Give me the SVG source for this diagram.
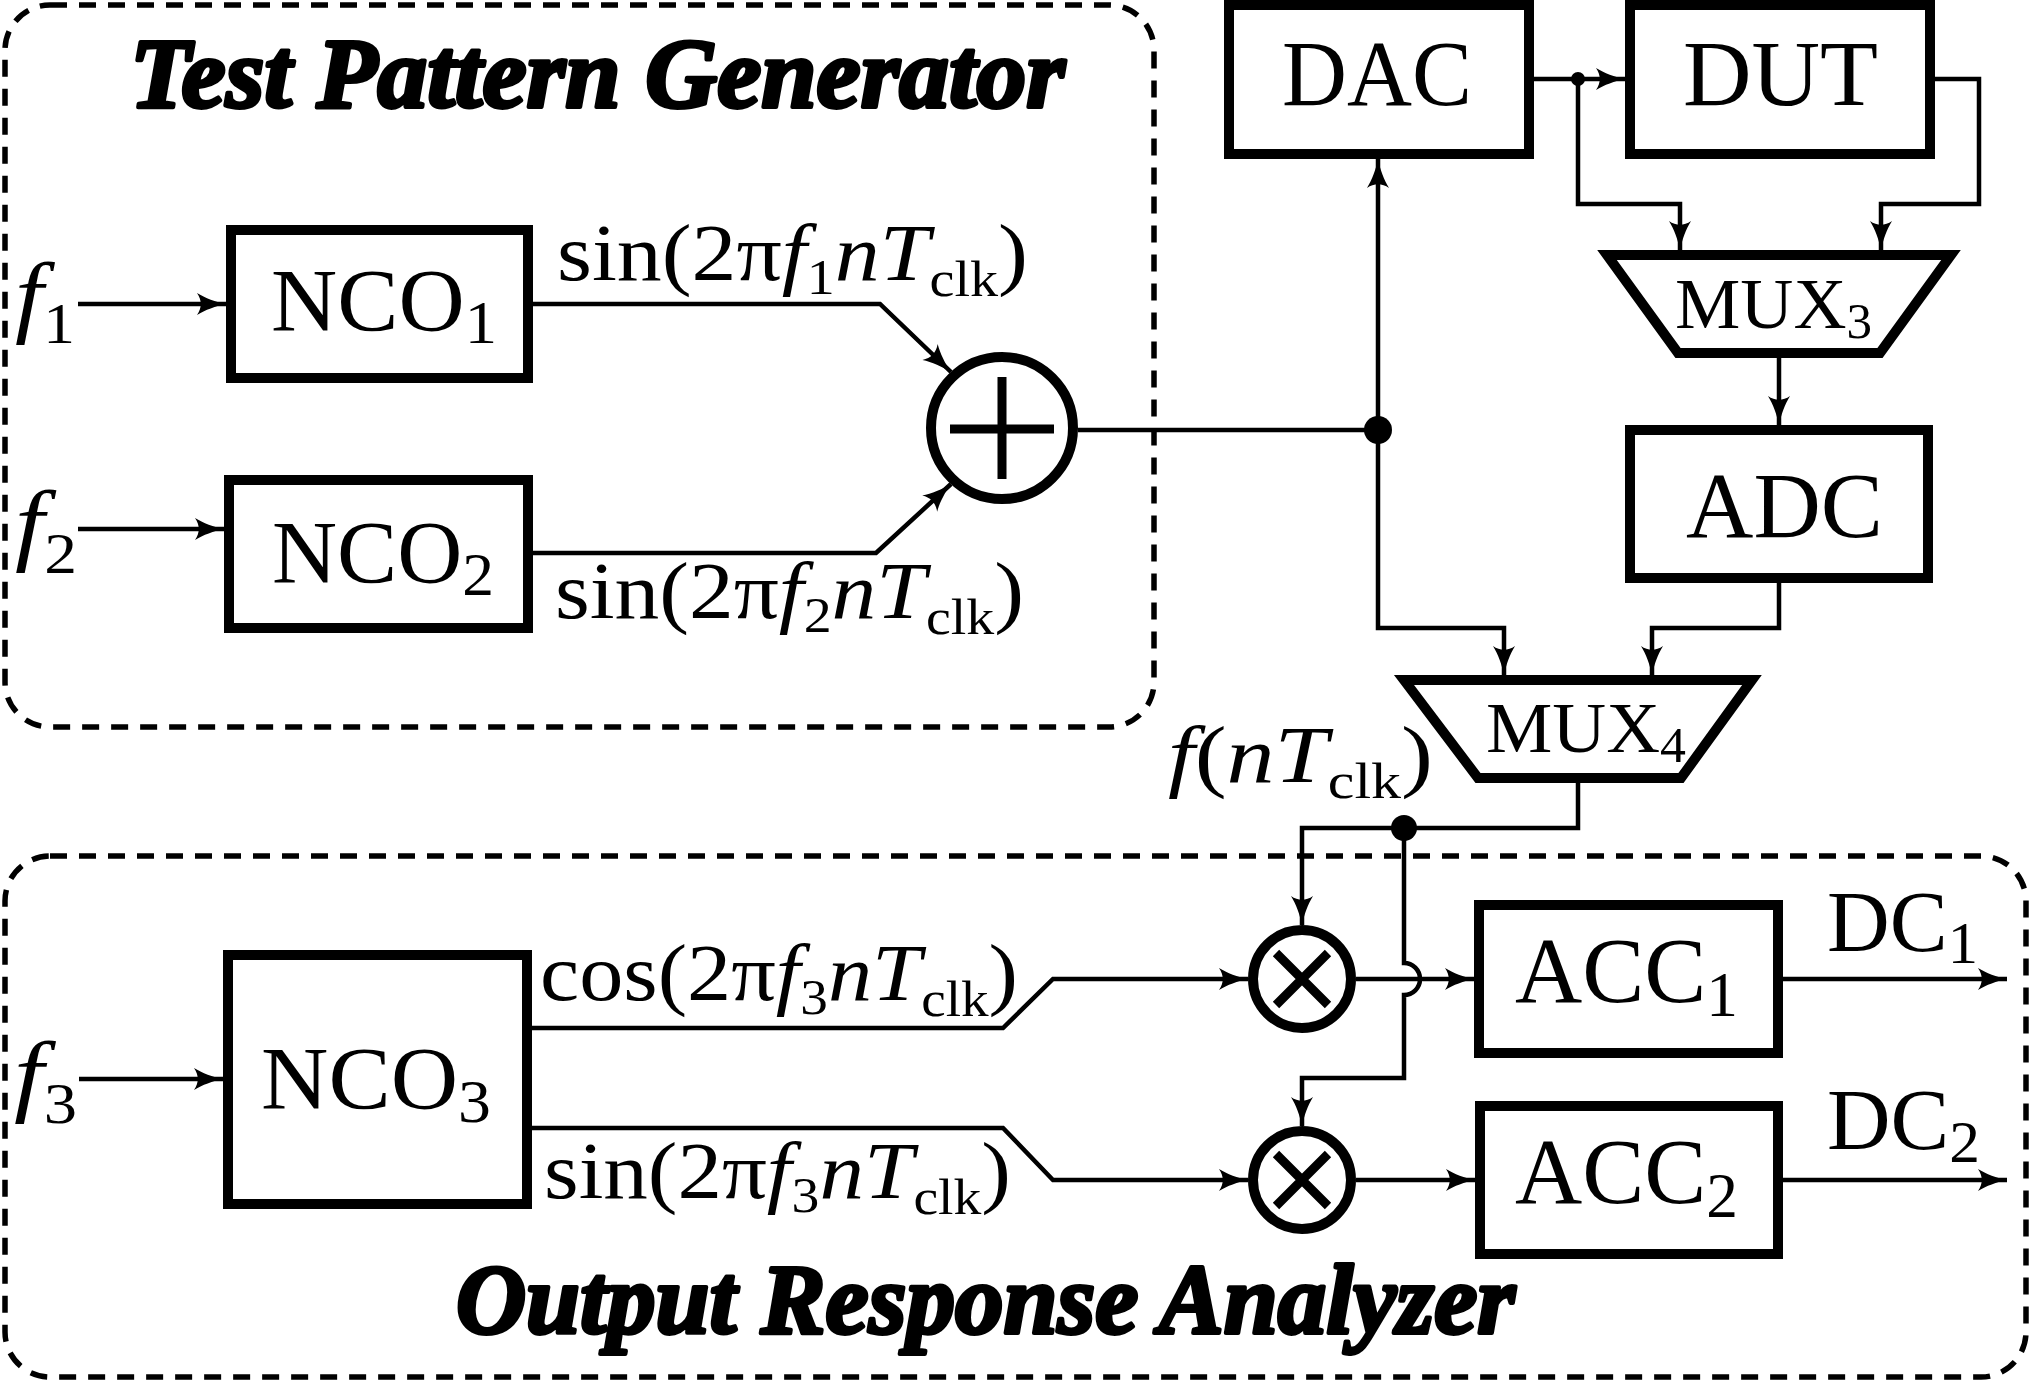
<svg xmlns="http://www.w3.org/2000/svg" width="2030" height="1382" viewBox="0 0 2030 1382">
<style>
.frame{fill:none;stroke:#000;stroke-width:5.5;stroke-dasharray:17 12}
.box{fill:#fff;stroke:#000;stroke-width:10}
.op{fill:#fff;stroke:#000;stroke-width:10}
.sym{stroke:#000;stroke-width:9;fill:none}
.wire{fill:none;stroke:#000;stroke-width:4.5}
.arr{marker-end:url(#ah)}
.dot{fill:#000}
.t{font-family:"Liberation Serif","Times New Roman",serif;fill:#000}
.title{font-family:"Liberation Serif","Times New Roman",serif;font-weight:bold;font-style:italic;font-size:100px;fill:#000;stroke:#000;stroke-width:4;stroke-linejoin:round}
.it{font-style:italic}
</style>
<defs>
<marker id="ah" markerUnits="userSpaceOnUse" viewBox="0 0 32 24" markerWidth="32" markerHeight="24" refX="30" refY="12" orient="auto">
<path d="M30,12 C20,10 9,6 1,1 C6,8 6,16 1,23 C9,18 20,14 30,12 Z" fill="#000"/>
</marker>
</defs>
<rect width="2030" height="1382" fill="#fff"/>

<g id="tpg-frame">
<rect class="frame" x="5" y="5" width="1149" height="722" rx="45"/>
<text class="title" x="130" y="107" textLength="935" lengthAdjust="spacingAndGlyphs">Test Pattern Generator</text>
</g>
<g id="ora-frame">
<rect class="frame" x="5" y="856" width="2021" height="521" rx="45"/>
<text class="title" x="456" y="1333" textLength="1059" lengthAdjust="spacingAndGlyphs">Output Response Analyzer</text>
</g>

<g id="nco1">
<rect class="box" x="231" y="230" width="297" height="148"/>
<text class="t" x="271" y="330" font-size="88" textLength="226" lengthAdjust="spacingAndGlyphs">NCO<tspan font-size="62" dy="13">1</tspan></text>
</g>
<g id="nco2">
<rect class="box" x="229" y="480" width="299" height="148"/>
<text class="t" x="272" y="582" font-size="88" textLength="222" lengthAdjust="spacingAndGlyphs">NCO<tspan font-size="62" dy="13">2</tspan></text>
</g>
<g id="nco3">
<rect class="box" x="228" y="955" width="299" height="249"/>
<text class="t" x="261" y="1108" font-size="88" textLength="230" lengthAdjust="spacingAndGlyphs">NCO<tspan font-size="62" dy="14">3</tspan></text>
</g>
<g id="adder">
<circle class="op" cx="1002" cy="428" r="71"/>
<path class="sym" d="M950,429 H1054 M1002,377 V479"/>
</g>
<g id="dac">
<rect class="box" x="1229" y="5" width="300" height="149"/>
<text class="t" x="1282" y="105" font-size="94" textLength="190" lengthAdjust="spacingAndGlyphs">DAC</text>
</g>
<g id="dut">
<rect class="box" x="1630" y="5" width="300" height="149"/>
<text class="t" x="1683" y="105" font-size="94" textLength="195" lengthAdjust="spacingAndGlyphs">DUT</text>
</g>
<g id="mux3">
<polygon class="op" points="1607,255 1951,255 1880,353 1678,353"/>
<text class="t" x="1675" y="328" font-size="72" textLength="197" lengthAdjust="spacingAndGlyphs">MUX<tspan font-size="50" dy="10">3</tspan></text>
</g>
<g id="adc">
<rect class="box" x="1630" y="430" width="298" height="148"/>
<text class="t" x="1686" y="537" font-size="94" textLength="197" lengthAdjust="spacingAndGlyphs">ADC</text>
</g>
<g id="mux4">
<polygon class="op" points="1404,680 1752,680 1681,778 1478,778"/>
<text class="t" x="1486" y="752" font-size="72" textLength="200" lengthAdjust="spacingAndGlyphs">MUX<tspan font-size="50" dy="10">4</tspan></text>
</g>
<g id="mult1">
<circle class="op" cx="1302" cy="979" r="49"/>
<path class="sym" stroke-width="8" d="M1276,953 L1328,1005 M1328,953 L1276,1005"/>
</g>
<g id="mult2">
<circle class="op" cx="1302" cy="1180" r="49"/>
<path class="sym" stroke-width="8" d="M1276,1154 L1328,1206 M1328,1154 L1276,1206"/>
</g>
<g id="acc1">
<rect class="box" x="1479" y="905" width="299" height="148"/>
<text class="t" x="1515" y="1002" font-size="94" textLength="223" lengthAdjust="spacingAndGlyphs">ACC<tspan font-size="64" dy="14">1</tspan></text>
</g>
<g id="acc2">
<rect class="box" x="1480" y="1106" width="298" height="148"/>
<text class="t" x="1515" y="1203" font-size="94" textLength="223" lengthAdjust="spacingAndGlyphs">ACC<tspan font-size="64" dy="14">2</tspan></text>
</g>

<g id="connectors">
<path class="wire arr" d="M78,304 H226"/>
<path class="wire arr" d="M78,529 H224"/>
<path class="wire arr" d="M79,1079 H223"/>
<path class="wire arr" d="M533,304 H880 L951,372"/>
<path class="wire arr" d="M533,553 H876 L951,484"/>
<path class="wire" d="M1078,430 H1378"/>
<path class="wire arr" d="M1378,430 V159"/>
<path class="wire arr" d="M1378,430 V628 H1504 V675"/>
<path class="wire arr" d="M1534,79 H1625"/>
<path class="wire arr" d="M1578,79 V204 H1680 V250"/>
<path class="wire arr" d="M1935,79 H1979 V204 H1881 V250"/>
<path class="wire arr" d="M1779,358 V425"/>
<path class="wire arr" d="M1779,583 V628 H1652 V675"/>
<path class="wire arr" d="M1578,783 V828 H1302 V925"/>
<path class="wire arr" d="M1404,828 V963 A16,16 0 0 1 1404,995 V1078 H1302 V1126"/>
<path class="wire arr" d="M532,1028 H1003 L1053,979 H1248"/>
<path class="wire arr" d="M532,1128 H1003 L1053,1180 H1248"/>
<path class="wire arr" d="M1356,979 H1474"/>
<path class="wire arr" d="M1356,1180 H1475"/>
<path class="wire arr" d="M1783,979 H2007"/>
<path class="wire arr" d="M1783,1180 H2007"/>
<circle class="dot" cx="1378" cy="430" r="14"/>
<circle class="dot" cx="1578" cy="79" r="7"/>
<circle class="dot" cx="1404" cy="828" r="13"/>
</g>

<g id="labels">
<text class="t" x="15" y="326" font-size="90" textLength="60" lengthAdjust="spacingAndGlyphs"><tspan class="it">f</tspan><tspan font-size="56" dy="17">1</tspan></text>
<text class="t" x="15" y="554" font-size="90" textLength="62" lengthAdjust="spacingAndGlyphs"><tspan class="it">f</tspan><tspan font-size="56" dy="19">2</tspan></text>
<text class="t" x="14" y="1105" font-size="90" textLength="63" lengthAdjust="spacingAndGlyphs"><tspan class="it">f</tspan><tspan font-size="56" dy="18">3</tspan></text>
<text class="t" x="557" y="280" font-size="80" textLength="471" lengthAdjust="spacingAndGlyphs">sin(2π<tspan class="it">f</tspan><tspan font-size="50" dy="14">1</tspan><tspan class="it" dy="-14">nT</tspan><tspan font-size="50" dy="16">clk</tspan><tspan dy="-16">)</tspan></text>
<text class="t" x="555" y="618" font-size="80" textLength="469" lengthAdjust="spacingAndGlyphs">sin(2π<tspan class="it">f</tspan><tspan font-size="50" dy="14">2</tspan><tspan class="it" dy="-14">nT</tspan><tspan font-size="50" dy="16">clk</tspan><tspan dy="-16">)</tspan></text>
<text class="t" x="540" y="1000" font-size="80" textLength="478" lengthAdjust="spacingAndGlyphs">cos(2π<tspan class="it">f</tspan><tspan font-size="50" dy="14">3</tspan><tspan class="it" dy="-14">nT</tspan><tspan font-size="50" dy="16">clk</tspan><tspan dy="-16">)</tspan></text>
<text class="t" x="544" y="1198" font-size="80" textLength="467" lengthAdjust="spacingAndGlyphs">sin(2π<tspan class="it">f</tspan><tspan font-size="50" dy="14">3</tspan><tspan class="it" dy="-14">nT</tspan><tspan font-size="50" dy="16">clk</tspan><tspan dy="-16">)</tspan></text>
<text class="t" x="1168" y="782" font-size="80" textLength="265" lengthAdjust="spacingAndGlyphs"><tspan class="it">f</tspan>(<tspan class="it">nT</tspan><tspan font-size="50" dy="16">clk</tspan><tspan dy="-16">)</tspan></text>
<text class="t" x="1827" y="951" font-size="86" textLength="151" lengthAdjust="spacingAndGlyphs">DC<tspan font-size="60" dy="12">1</tspan></text>
<text class="t" x="1827" y="1149" font-size="86" textLength="153" lengthAdjust="spacingAndGlyphs">DC<tspan font-size="60" dy="13">2</tspan></text>
</g>
</svg>
